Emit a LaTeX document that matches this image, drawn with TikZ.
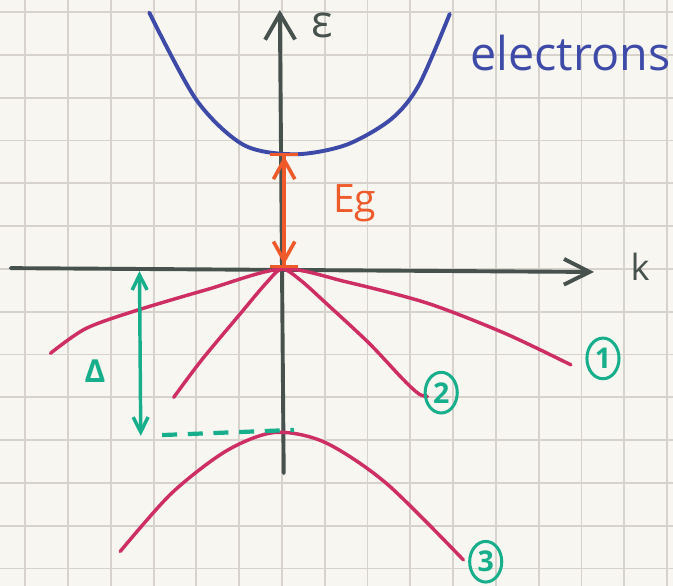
\documentclass[tikz,border=0pt]{standalone}
\usepackage{fontspec}
\setmainfont{Open Sans}
\usepackage{xcolor}
\usetikzlibrary{arrows.meta, shapes.geometric}

\definecolor{paper}{HTML}{F8F6F0}
\definecolor{gridgray}{HTML}{D7D3CC}
\definecolor{axisgray}{HTML}{47524F}
\definecolor{elecblue}{HTML}{3D4AA8}
\definecolor{bandred}{HTML}{CD2E63}
\definecolor{gaporange}{HTML}{EE5A2A}
\definecolor{gapgreen}{HTML}{17AE8B}

\begin{document}
\begin{tikzpicture}[
  gridline/.style={draw=gridgray, line width=1.2pt},
  axis/.style={draw=axisgray, line width=2.6pt, line cap=round},
  band/.style={draw=bandred, line width=2.3pt, line cap=round},
  gaparrow/.style={draw=gaporange, line width=2.4pt},
  splitarrow/.style={draw=gapgreen, line width=2.3pt},
  numbox/.style={draw=gapgreen, ellipse, line width=2pt, minimum width=0.75cm,
    minimum height=0.95cm, inner sep=0pt, text=gapgreen,
    font=\fontsize{19}{19}\selectfont\bfseries},
]
  \fill[paper] (-6.589, -7.407) rectangle (9.136, 6.285);
  \useasboundingbox (-6.589, -7.407) rectangle (9.136, 6.285);
  \draw[gridline, step=1] (-6.589, -7.407) grid (9.136, 6.285);

  % axes
  \coordinate (kL) at (-6.34, 0.02);
  \coordinate (kR) at (7.29, -0.07);
  \coordinate (eB) at (0.04, -4.77);
  \coordinate (eT) at (-0.05, 6.05);
  \draw[axis, -{Straight Barb[length=6mm, width=6mm]}] (kL) -- (kR);
  \draw[axis, -{Straight Barb[length=6mm, width=7mm]}] (eB) -- (eT);
  \node[text=axisgray, font=\fontsize{30}{30}\selectfont] (eps) at (0.93, 5.7) {ε};
  \node[text=axisgray, font=\fontsize{24}{24}\selectfont] (klab) at (8.37, 0.05) {k};

  % conduction band
  \draw[draw=elecblue, line width=2.6pt, line cap=round] plot[smooth] coordinates {
    (-3.1,5.99) (-2.0,3.95) (-0.9,2.9) (0.3,2.68) (1.5,2.9) (2.55,3.5) (3.2,4.3) (3.92,5.96)};
  \node[text=elecblue, anchor=base west, font=\fontsize{31}{31}\selectfont]
    (elec) at (4.28, 4.63) {electrons};

  % valence bands
  \draw[band] plot[smooth] coordinates {
    (-5.41,-1.97) (-4.6,-1.4) (-3.5,-1.0) (-1.75,-0.48) (0,0)
    (1.5,-0.3) (3.4,-0.8) (5.2,-1.5) (6.75,-2.24)};
  \draw[band] plot[smooth] coordinates {
    (-2.53,-3.0) (-1.88,-2.13) (-0.97,-1.04) (-0.37,-0.33) (0,0)
    (0.43,-0.26) (1.03,-0.8) (2.03,-1.73) (2.84,-2.59) (3.2,-2.92) (3.4,-2.98)};
  \draw[band] plot[smooth] coordinates {
    (-3.78,-6.6) (-2.58,-5.24) (-1.3,-4.25) (-0.17,-3.82) (1.0,-4.05)
    (2.44,-5.01) (4.24,-6.8)};
  \node[numbox] (n1) at (7.5, -2.09) {1};
  \node[numbox] (n2) at (3.72, -2.89) {2};
  \node[numbox] (n3) at (4.76, -6.84) {3};

  % band gap
  \coordinate (cbm) at (0.05, 2.72);
  \coordinate (vbm) at (0.05, 0.02);
  \draw[gaparrow, {Bar[width=6.5mm]Straight Barb[length=4.5mm, width=5mm]}-{Straight Barb[length=4.5mm, width=5mm]Bar[width=6.5mm]}]
    (cbm) -- (vbm);
  \node[text=gaporange, anchor=base west, font=\fontsize{26}{26}\selectfont]
    (eg) at (1.07, 1.31) {Eg};

  % spin-orbit splitting
  \coordinate (soT) at (-3.33, -0.05);
  \coordinate (soB) at (-3.3, -3.9);
  \coordinate (soR) at (0.28, -3.76);
  \draw[splitarrow, {Straight Barb[length=3.5mm, width=3.5mm]}-{Straight Barb[length=3.5mm, width=3.5mm]}]
    (soT) -- (soB);
  \draw[splitarrow, line width=2.8pt, dash pattern=on 3.5mm off 2.5mm, shorten <=0.5cm]
    (soB) -- (soR);
  \node[text=gapgreen, font=\fontsize{21}{21}\selectfont\bfseries] (delta) at (-4.37, -2.38) {Δ};
\end{tikzpicture}
\end{document}
